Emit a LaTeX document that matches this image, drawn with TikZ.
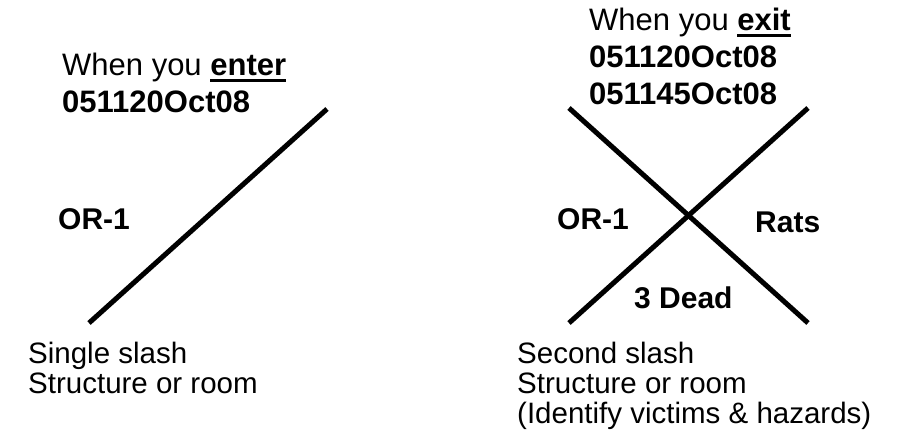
\documentclass[tikz,border=0pt]{standalone}
\usepackage{fontspec}
\setmainfont{Liberation Sans}
\newcommand\ulbox[1]{\setbox0\hbox{#1}\rlap{\rule[-7pt]{\wd0}{3pt}}\box0}
\begin{document}
\begin{tikzpicture}[x=1pt,y=-1pt,
  slashline/.style={line width=5pt,black},
  toptext/.style={anchor=base west,inner sep=0pt,align=left,font=\fontsize{31}{37}\selectfont},
  lbl/.style={anchor=base west,inner sep=0pt,font=\fontsize{30}{36}\selectfont\bfseries},
  captext/.style={anchor=base west,inner sep=0pt,align=left,font=\fontsize{29.5}{30}\selectfont}]
\useasboundingbox (0,0) rectangle (902,447);
% left slash
\coordinate (l1) at (89,323);
\coordinate (l2) at (327,109);
\draw[slashline] (l1) -- (l2);
% right X
\coordinate (r1) at (569,108);
\coordinate (r2) at (808,323);
\coordinate (r3) at (569,323);
\coordinate (r4) at (808,108);
\draw[slashline] (r1) -- (r2);
\draw[slashline] (r3) -- (r4);
% texts (base anchor of a multi-line node = last line's baseline)
\node[toptext] (enter) at (62,112) {When you \ulbox{\bfseries enter}\\\bfseries 051120Oct08};
\node[lbl] (orl) at (58,229) {OR-1};
\node[captext] (capl) at (28,393) {Single slash\\Structure or room};
\node[toptext] (exit) at (589,104) {When you \ulbox{\bfseries exit}\\\bfseries 051120Oct08\\\bfseries 051145Oct08};
\node[lbl] (orr) at (557,229) {OR-1};
\node[lbl] (rats) at (755,232) {Rats};
\node[lbl] (dead) at (634,308) {3 Dead};
\node[captext] (capr) at (517,423) {Second slash\\Structure or room\\(Identify victims \& hazards)};
\end{tikzpicture}
\end{document}
